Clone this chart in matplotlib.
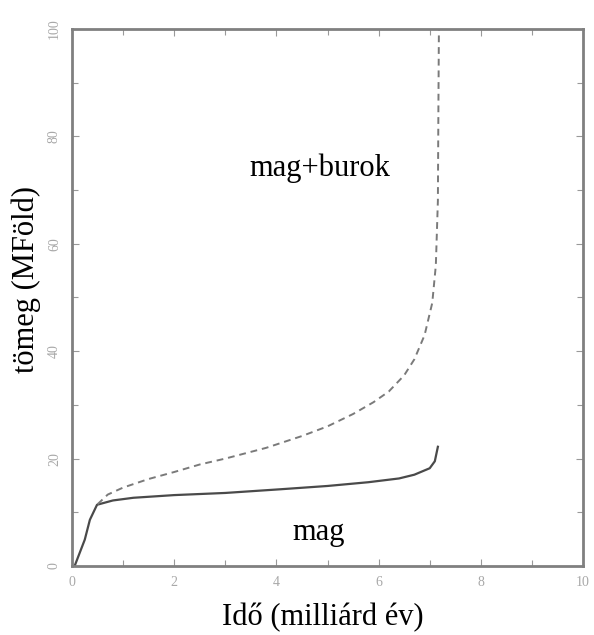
import matplotlib
matplotlib.use("Agg")
import matplotlib.pyplot as plt
from matplotlib.ticker import MultipleLocator

# core mass (mag) and core+envelope mass (mag+burok) vs time
t_mag = [0.06, 0.25, 0.35, 0.49, 0.8, 1.2, 2.0, 3.0, 4.1, 5.0, 5.8, 6.4, 6.7, 7.0, 7.1, 7.16]
m_mag = [0.2, 4.9, 8.6, 11.4, 12.2, 12.7, 13.2, 13.6, 14.3, 14.9, 15.6, 16.3, 17.0, 18.2, 19.5, 22.2]

t_burok = [0.5, 0.7, 1.0, 1.5, 2.0, 2.5, 3.0, 3.8, 4.5, 5.0, 5.5, 5.9, 6.2, 6.5, 6.7, 6.9, 7.05, 7.12, 7.16, 7.17, 7.18]
m_burok = [11.5, 13.3, 14.6, 16.2, 17.5, 18.9, 20.0, 22.0, 24.2, 26.0, 28.3, 30.5, 32.5, 35.5, 38.5, 43.0, 49.0, 56.0, 68.0, 85.0, 100.0]

x_label = "Idő (milliárd év)"
y_label = "tömeg (MFöld)"
serif = ["Liberation Serif", "DejaVu Serif"]

fig = plt.figure(figsize=(5.94, 6.35), dpi=100)
ax = fig.add_axes([0.1212, 0.1087, 0.8603, 0.8456])

ax.plot(t_mag, m_mag, color="#4a4a4a", lw=1.6)
ax.plot(t_burok, m_burok, color="#7a7a7a", lw=1.4, dashes=(3.5, 2.5))

ax.set_xlim(0, 10)
ax.set_ylim(0, 100)
ax.xaxis.set_major_locator(MultipleLocator(2))
ax.xaxis.set_minor_locator(MultipleLocator(1))
ax.yaxis.set_major_locator(MultipleLocator(20))
ax.yaxis.set_minor_locator(MultipleLocator(10))
ax.tick_params(which="both", direction="in", top=True, right=True,
               color="#999999", labelcolor="#a8a8a8", labelsize=10)
ax.tick_params(which="major", length=5, width=0.8)
ax.tick_params(which="minor", length=4, width=0.8)
ax.tick_params(axis="y", labelrotation=90, pad=8)
ax.tick_params(axis="x", pad=7)
for lab in ax.get_xticklabels() + ax.get_yticklabels():
    lab.set_family(serif)
for lab in ax.get_yticklabels():
    lab.set_va("center")

for s in ax.spines.values():
    s.set_color("#808080")
    s.set_linewidth(2)

ax.text(4.85, 74, "mag+burok", family=serif, fontsize=22, ha="center", va="center")
ax.text(4.82, 6.3, "mag", family=serif, fontsize=22, ha="center", va="center")

ax.set_xlabel(x_label, family=serif, fontsize=22, labelpad=10)
ax.xaxis.label.set_x(0.491)
ax.set_ylabel(y_label, family=serif, fontsize=22)
ax.yaxis.set_label_coords(-0.06, 0.534)

fig.savefig("out.png", dpi=100)
